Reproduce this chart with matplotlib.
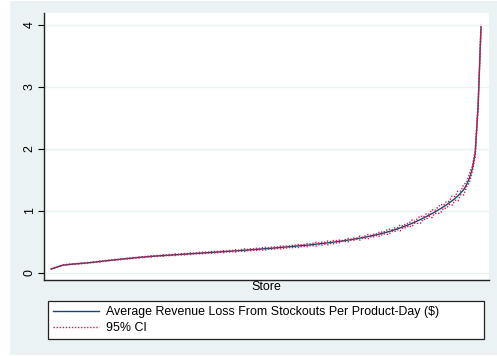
import numpy as np
import matplotlib
matplotlib.use('Agg')
import matplotlib.pyplot as plt
from matplotlib.patches import Rectangle

# average revenue loss per product-day, stores sorted ascending
avg_loss = [
    0.060, 0.075, 0.090, 0.105, 0.120, 0.127, 0.132, 0.136, 0.140, 0.144,
    0.148, 0.152, 0.156, 0.161, 0.165, 0.170, 0.176, 0.181, 0.187, 0.192,
    0.197, 0.202, 0.207, 0.212, 0.217, 0.221, 0.226, 0.230, 0.235, 0.240,
    0.244, 0.249, 0.253, 0.257, 0.261, 0.264, 0.268, 0.271, 0.275, 0.278,
    0.281, 0.284, 0.287, 0.290, 0.293, 0.296, 0.299, 0.302, 0.305, 0.308,
    0.311, 0.314, 0.317, 0.320, 0.323, 0.326, 0.329, 0.332, 0.335, 0.338,
    0.341, 0.344, 0.347, 0.350, 0.353, 0.356, 0.360, 0.363, 0.366, 0.370,
    0.373, 0.376, 0.380, 0.383, 0.387, 0.390, 0.394, 0.397, 0.401, 0.404,
    0.408, 0.412, 0.416, 0.420, 0.424, 0.428, 0.432, 0.437, 0.441, 0.446,
    0.451, 0.456, 0.461, 0.466, 0.471, 0.477, 0.482, 0.488, 0.494, 0.500,
    0.506, 0.513, 0.520, 0.527, 0.534, 0.542, 0.550, 0.558, 0.566, 0.575,
    0.584, 0.594, 0.604, 0.615, 0.626, 0.638, 0.650, 0.663, 0.677, 0.692,
    0.708, 0.724, 0.741, 0.758, 0.776, 0.795, 0.815, 0.836, 0.858, 0.881,
    0.905, 0.929, 0.954, 0.980, 1.007, 1.035, 1.064, 1.095, 1.128, 1.163,
    1.200, 1.240, 1.290, 1.340, 1.420, 1.530, 1.680, 1.930, 2.700, 3.970,
]

# half-width of the 95% confidence interval for each store
ci_half = [
    0.003, 0.006, 0.002, 0.005, 0.004, 0.003, 0.006, 0.002, 0.005, 0.003,
    0.004, 0.007, 0.003, 0.005, 0.002, 0.006, 0.004, 0.008, 0.003, 0.005,
    0.006, 0.003, 0.009, 0.004, 0.007, 0.002, 0.008, 0.005, 0.010, 0.004,
    0.006, 0.011, 0.003, 0.008, 0.005, 0.012, 0.004, 0.009, 0.006, 0.013,
    0.005, 0.010, 0.007, 0.014, 0.004, 0.009, 0.012, 0.006, 0.015, 0.008,
    0.005, 0.013, 0.009, 0.016, 0.006, 0.011, 0.018, 0.007, 0.012, 0.009,
    0.017, 0.006, 0.013, 0.010, 0.019, 0.008, 0.014, 0.022, 0.009, 0.015,
    0.011, 0.020, 0.008, 0.016, 0.024, 0.010, 0.013, 0.021, 0.009, 0.017,
    0.025, 0.012, 0.018, 0.010, 0.023, 0.014, 0.028, 0.011, 0.019, 0.026,
    0.013, 0.021, 0.030, 0.012, 0.024, 0.016, 0.032, 0.014, 0.027, 0.018,
    0.020, 0.006, 0.015, 0.028, 0.008, 0.018, 0.010, 0.032, 0.007, 0.022,
    0.035, 0.009, 0.024, 0.012, 0.040, 0.010, 0.028, 0.045, 0.011, 0.030,
    0.014, 0.048, 0.012, 0.035, 0.018, 0.055, 0.013, 0.040, 0.060, 0.016,
    0.045, 0.018, 0.065, 0.020, 0.050, 0.070, 0.022, 0.055, 0.025, 0.075,
    0.030, 0.080, 0.028, 0.085, 0.035, 0.070, 0.040, 0.060, 0.050, 0.040,
]

yticks = [0, 1, 2, 3, 4]
mean_label = 'Average Revenue Loss From Stockouts Per Product-Day ($)'
ci_label = '95% CI'

plt.rcParams['font.family'] = ['Liberation Sans', 'DejaVu Sans']

bg = '#eaf2f3'
navy = '#1a476f'
red = '#d81b4f'
fs = 8.9

avg_loss = np.array(avg_loss)
ci_half = np.array(ci_half)
store = np.arange(1, len(avg_loss) + 1)

fig = plt.figure(figsize=(4.97, 3.56), dpi=100, facecolor='white')
# graph region background, kept behind the axes
fig.patches.append(Rectangle((10 / 497, 1 / 356), 487 / 497, 354 / 356,
                             transform=fig.transFigure, facecolor=bg,
                             edgecolor='none', zorder=-5))

ax = fig.add_axes([44 / 497, 76 / 356, 445 / 497, 267 / 356])
ax.set_facecolor('white')

ax.plot(store, avg_loss, color=navy, linewidth=1.0, label=mean_label, zorder=3)
ax.plot(store, avg_loss - ci_half, color=red, linewidth=1.0,
        linestyle=(0, (1, 1.2)), label=ci_label, zorder=4)
ax.plot(store, avg_loss + ci_half, color=red, linewidth=1.0,
        linestyle=(0, (1, 1.2)), zorder=4)

ax.set_xlim(-1.43, 152.77)
ax.set_ylim(-0.118, 4.194)
ax.set_yticks(yticks)
ax.set_yticklabels([str(t) for t in yticks], rotation=90, va='center')
ax.set_xticks([])
ax.yaxis.grid(True, color=bg, linewidth=1.0)
ax.set_axisbelow(True)

for side in ['top', 'right']:
    ax.spines[side].set_visible(False)
for side in ['left', 'bottom']:
    ax.spines[side].set_color('#222222')
    ax.spines[side].set_linewidth(1.0)
ax.tick_params(axis='y', direction='out', length=4, width=0.8,
               labelsize=fs, pad=2, colors='black')

ax.set_xlabel('Store', fontsize=fs, labelpad=1)

handles, labels = ax.get_legend_handles_labels()
leg = fig.legend(handles, labels, loc='upper left',
                 bbox_to_anchor=(48 / 497, 55 / 356, 436 / 497, 0),
                 mode='expand', borderaxespad=0, fontsize=fs,
                 handlelength=3.7, handletextpad=0.6, labelspacing=0.32,
                 borderpad=0.42, fancybox=False, framealpha=1)
leg.get_frame().set_edgecolor('#222222')
leg.get_frame().set_linewidth(0.9)

fig.savefig('out.png', dpi=100, facecolor='white')
